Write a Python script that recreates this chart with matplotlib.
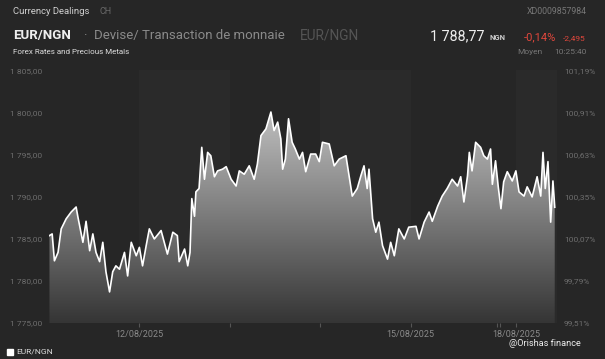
import numpy as np
import matplotlib.pyplot as plt
from matplotlib.colors import LinearSegmentedColormap

plt.rcParams['font.family'] = ['Roboto', 'DejaVu Sans']

# EUR/NGN intraday, x in trading days since 11/08/2025 00:00 (weekend compressed)
days = [0.005, 0.035, 0.06, 0.10, 0.135, 0.19, 0.245, 0.30, 0.32, 0.375, 0.41, 0.45,
        0.485, 0.52, 0.56, 0.595, 0.63, 0.67, 0.705, 0.74, 0.78, 0.835, 0.87, 0.91,
        0.965, 1.0, 1.035, 1.075, 1.11, 1.165, 1.24, 1.31, 1.37, 1.42, 1.44, 1.50,
        1.535, 1.56, 1.58, 1.61, 1.625, 1.66, 1.69, 1.72, 1.755, 1.79, 1.83, 1.865,
        1.92, 1.96, 2.015, 2.07, 2.105, 2.16, 2.215, 2.27, 2.305, 2.345, 2.40, 2.455,
        2.49, 2.53, 2.565, 2.585, 2.615, 2.65, 2.69, 2.725, 2.77, 2.805, 2.84, 2.895,
        2.95, 2.99, 3.025, 3.10, 3.155, 3.21, 3.285, 3.32, 3.355, 3.41, 3.45, 3.485,
        3.52, 3.54, 3.58, 3.615, 3.65, 3.69, 3.745, 3.78, 3.82, 3.87, 3.93, 3.98,
        4.06, 4.094, 4.15, 4.205, 4.24, 4.30, 4.35, 4.405, 4.46, 4.52, 4.555, 4.59,
        4.63, 4.65, 4.68, 4.72, 4.775, 4.81, 4.85, 4.885, 4.905, 4.94, 4.97, 5.0,
        5.03, 5.07, 5.125, 5.165, 5.20, 5.255, 5.29, 5.345, 5.40, 5.44, 5.465, 5.49,
        5.52, 5.55, 5.575, 5.595]
rate = [1785.4, 1785.6, 1782.4, 1783.4, 1786.2, 1787.4, 1788.2, 1788.8, 1787.6, 1784.6,
        1787.1, 1783.6, 1785.6, 1783.4, 1782.3, 1784.6, 1781.1, 1778.7, 1781.1, 1781.8,
        1781.4, 1783.4, 1780.6, 1784.6, 1783.0, 1784.0, 1781.8, 1784.2, 1786.2, 1785.0,
        1786.0, 1783.2, 1785.8, 1785.4, 1782.3, 1783.8, 1781.8, 1783.4, 1789.8, 1787.7,
        1790.6, 1791.0, 1795.9, 1792.1, 1795.3, 1794.9, 1792.4, 1793.1, 1793.3, 1793.6,
        1792.1, 1791.3, 1793.1, 1792.7, 1793.7, 1792.1, 1793.9, 1797.3, 1798.1, 1800.1,
        1797.9, 1798.9, 1796.9, 1793.3, 1794.5, 1799.3, 1796.5, 1795.7, 1794.5, 1795.3,
        1793.0, 1795.1, 1795.1, 1794.2, 1796.5, 1796.3, 1793.7, 1794.5, 1794.9, 1792.5,
        1790.1, 1791.0, 1792.5, 1793.7, 1791.0, 1793.3, 1787.4, 1785.8, 1787.0, 1784.2,
        1782.6, 1784.6, 1783.0, 1786.2, 1785.0, 1786.4, 1786.5, 1785.0, 1787.0, 1788.2,
        1787.1, 1788.9, 1790.1, 1791.0, 1792.1, 1791.3, 1792.4, 1789.4, 1792.5, 1795.3,
        1793.1, 1796.5, 1795.9, 1794.9, 1794.5, 1795.7, 1791.5, 1794.3, 1791.2, 1788.6,
        1791.8, 1793.0, 1791.9, 1793.1, 1790.6, 1790.1, 1791.2, 1790.0, 1792.4, 1790.1,
        1795.3, 1791.0, 1794.2, 1787.0, 1791.9, 1788.77]

# day boundaries (session starts) and which ones get a date label
day_starts = [1.0, 2.0, 3.0, 4.0, 4.96, 4.99, 5.17]
date_labels = {1.0: '12/08/2025', 4.0: '15/08/2025', 5.17: '18/08/2025'}
band_spans = [(1.0, 2.0), (3.0, 4.0), (5.17, 5.62)]

y_ticks = [1775, 1780, 1785, 1790, 1795, 1800, 1805]
y_labels = ['1 775,00', '1 780,00', '1 785,00', '1 790,00', '1 795,00', '1 800,00', '1 805,00']
pct_labels = ['99,51%', '99,79%', '100,07%', '100,35%', '100,63%', '100,91%', '101,19%']

BG = '#262626'
fig = plt.figure(figsize=(6.05, 3.59), dpi=100, facecolor=BG)
ax = fig.add_axes([49 / 605, 1 - 323 / 359, 508 / 605, 253 / 359])
ax.set_facecolor(BG)
ax.set_xlim(0, 5.62)
ax.set_ylim(1775, 1805.1)

for a, b in band_spans:
    ax.axvspan(a, b, color='#2a2a2a', lw=0, zorder=0)

# gradient fill under the line
cmap = LinearSegmentedColormap.from_list('g', ['#353535', '#c4c4c4'])
grad = np.linspace(0, 1, 256).reshape(-1, 1)
im = ax.imshow(grad, cmap=cmap, aspect='auto', origin='lower',
               extent=[0, 5.62, 1775, 1801], zorder=1, vmin=0, vmax=1)
poly = ax.fill_between(days, rate, 1775, color='none', lw=0)
path = poly.get_paths()[0]
im.set_clip_path(path, ax.transData)
ax.plot(days, rate, color='white', lw=1.2, zorder=3)

for s in ['top', 'right', 'left', 'bottom']:
    ax.spines[s].set_visible(False)
ax.set_xticks(day_starts)
ax.set_xticklabels([date_labels.get(d, '') for d in day_starts])
ax.tick_params(axis='x', length=3, color='#555555', colors='#8a8a8a', labelsize=6.5, pad=2)
ax.set_yticks(y_ticks)
ax.set_yticklabels(y_labels)
ax.tick_params(axis='y', length=0, colors='#6e6e6e', labelsize=6, pad=5)

ax2 = ax.twinx()
ax2.set_ylim(ax.get_ylim())
ax2.set_yticks(y_ticks)
ax2.set_yticklabels(pct_labels)
ax2.tick_params(axis='y', length=0, colors='#6e6e6e', labelsize=6, pad=5)
for s in ['top', 'right', 'left', 'bottom']:
    ax2.spines[s].set_visible(False)

# header
def t(x, y, s, **kw):
    fig.text(x / 605, 1 - y / 359, s, va='center', **kw)

t(13, 12, 'Currency Dealings', color='#d0d0d0', fontsize=6.8)
t(100, 12, 'CH', color='#6a6a6a', fontsize=6.5)
t(587, 12, 'XD0009857984', color='#777777', fontsize=6.3, ha='right')
t(13, 35, 'EUR/NGN', color='#eeeeee', fontsize=9.5, fontweight='bold')
t(84, 35, '·  Devise/ Transaction de monnaie', color='#8a8a8a', fontsize=9.5)
t(300, 35, 'EUR/NGN', color='#555555', fontsize=9.8)
t(430, 36, '1 788,77', color='#eeeeee', fontsize=10.3)
t(489, 37, 'NGN', color='#cccccc', fontsize=5.5, fontweight='bold')
t(524, 37, '-0,14%', color='#e0473c', fontsize=8)
t(563, 38, '-2,495', color='#e0473c', fontsize=6)
t(13, 52, 'Forex Rates and Precious Metals', color='#dddddd', fontsize=5.8)
t(517, 52, 'Moyen', color='#777777', fontsize=6)
t(554, 52, '10:25:40', color='#777777', fontsize=6)

# footer
t(545, 344, '@Orishas finance', color='#eeeeee', fontsize=6.6, ha='center')
fig.patches.append(plt.Rectangle((7 / 605, 1 - 355 / 359), 6 / 605, 6 / 359,
                                 transform=fig.transFigure, color='white'))
t(16, 352, 'EUR/NGN', color='#dddddd', fontsize=6)

fig.savefig('out.png', dpi=100, facecolor=BG)
